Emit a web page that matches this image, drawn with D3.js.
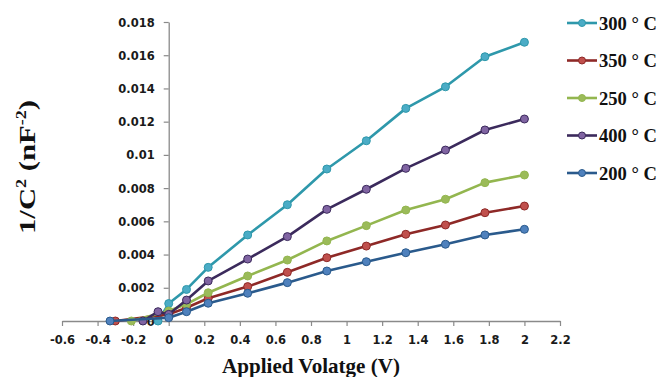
<!DOCTYPE html>
<html><head><meta charset="utf-8">
<script src="https://cdn.jsdelivr.net/npm/d3@7/dist/d3.min.js"></script>
<style>
html,body{margin:0;padding:0;background:#fff;}
svg{display:block;}
.tick text{font-family:"DejaVu Sans",sans-serif;font-weight:bold;font-size:11.5px;fill:#1a1a1a;}
</style></head>
<body><svg id="c" width="658" height="377"></svg>
<script>
// ---- data ----
const seriesNames = ["300 ° C", "350 ° C", "250 ° C", "400 ° C", "200 ° C"];
const xTickValues = [-0.6,-0.4,-0.2,0,0.2,0.4,0.6,0.8,1,1.2,1.4,1.6,1.8,2,2.2];
const xTickLabels = ["-0.6","-0.4","-0.2","0","0.2","0.4","0.6","0.8","1","1.2","1.4","1.6","1.8","2","2.2"];
const yTickValues = [0,0.002,0.004,0.006,0.008,0.01,0.012,0.014,0.016,0.018];
const yTickLabels = ["0","0.002","0.004","0.006","0.008","0.01","0.012","0.014","0.016","0.018"];

const x300 = [-0.06, 0, 0.1, 0.222, 0.444, 0.667, 0.889, 1.111, 1.333, 1.556, 1.778, 2.0];
const y300 = [0, 0.00105, 0.0019, 0.00323, 0.00518, 0.0070, 0.00915, 0.01085, 0.0128, 0.0141, 0.01591, 0.01678];
const x350 = [-0.30, 0, 0.1, 0.222, 0.444, 0.667, 0.889, 1.111, 1.333, 1.556, 1.778, 2.0];
const y350 = [0, 0.0004, 0.0008, 0.00137, 0.00207, 0.00293, 0.00381, 0.00451, 0.00522, 0.00578, 0.00652, 0.00692];
const x250 = [-0.21, 0, 0.1, 0.222, 0.444, 0.667, 0.889, 1.111, 1.333, 1.556, 1.778, 2.0];
const y250 = [0, 0.0006, 0.00102, 0.0017, 0.00271, 0.00367, 0.00482, 0.00574, 0.00668, 0.00733, 0.00833, 0.00879];
const x400 = [-0.145, -0.06, 0, 0.1, 0.222, 0.444, 0.667, 0.889, 1.111, 1.333, 1.556, 1.778, 2.0];
const y400 = [0, 0.00056, 0.0004, 0.00126, 0.00241, 0.00373, 0.00508, 0.00672, 0.00793, 0.00919, 0.01029, 0.0115, 0.01216];
const x200 = [-0.33, 0, 0.1, 0.222, 0.444, 0.667, 0.889, 1.111, 1.333, 1.556, 1.778, 2.0];
const y200 = [0, 0.0002, 0.00056, 0.00107, 0.00167, 0.00231, 0.00301, 0.00357, 0.00411, 0.00462, 0.00518, 0.00552];

const lineColors   = ["#2E98AB", "#8E2927", "#93B64F", "#3B2A5C", "#2A5A8C"];
const markerColors = ["#4BACC6", "#C0504D", "#9BBB59", "#8064A2", "#4F81BD"];

const series = [
  {name: seriesNames[0], xs: x300, ys: y300},
  {name: seriesNames[1], xs: x350, ys: y350},
  {name: seriesNames[2], xs: x250, ys: y250},
  {name: seriesNames[3], xs: x400, ys: y400},
  {name: seriesNames[4], xs: x200, ys: y200}
];

// ---- layout ----
const svg = d3.select("#c");
const x = d3.scaleLinear().domain([-0.6, 2.2]).range([62, 560]);
const y = d3.scaleLinear().domain([0, 0.018]).range([321, 22]);

// x axis
svg.append("g").attr("transform", `translate(0,${y(0)})`)
  .call(d3.axisBottom(x).tickValues(xTickValues)
    .tickFormat((d,i)=>xTickLabels[i]).tickSize(5).tickSizeOuter(0).tickPadding(10));
// y axis at x=0
const yAxis = svg.append("g").attr("transform", `translate(${x(0)},0)`)
  .call(d3.axisLeft(y).tickValues(yTickValues)
    .tickFormat((d,i)=>yTickLabels[i]).tickSize(5).tickSizeOuter(0).tickPadding(9));
svg.selectAll(".domain").attr("stroke", "#8a8a8a").attr("stroke-width", 1.3);
svg.selectAll(".tick line").attr("stroke", "#8a8a8a").attr("stroke-width", 1.2);
yAxis.selectAll(".tick text").attr("dy", "0.35em");

// lines
const line = d3.line().x(d=>x(d[0])).y(d=>y(d[1]));
series.forEach((s, i) => {
  const pts = s.xs.map((v, j) => [v, s.ys[j]]);
  const g = svg.append("g");
  g.append("path").datum(pts).attr("d", line)
    .attr("fill", "none").attr("stroke", lineColors[i]).attr("stroke-width", 2.6)
    .attr("stroke-linejoin", "round");
  g.selectAll("circle").data(pts).enter().append("circle")
    .attr("cx", d=>x(d[0])).attr("cy", d=>y(d[1])).attr("r", 4)
    .attr("fill", markerColors[i]).attr("stroke", lineColors[i]).attr("stroke-width", 1);
});

// legend
const legendY = d3.scalePoint().domain(seriesNames).range([23, 173]);
series.forEach((s, i) => {
  const ly = legendY(s.name);
  svg.append("line").attr("x1", 567).attr("x2", 597).attr("y1", ly).attr("y2", ly)
    .attr("stroke", lineColors[i]).attr("stroke-width", 2.6);
  svg.append("circle").attr("cx", 582).attr("cy", ly).attr("r", 3.5)
    .attr("fill", markerColors[i]).attr("stroke", lineColors[i]).attr("stroke-width", 1);
  svg.append("text").attr("x", 599).attr("y", ly + 6.5)
    .attr("font-family", "'Liberation Serif','Times New Roman',serif")
    .attr("font-weight", "bold").attr("font-size", 18.5).attr("fill", "#111")
    .attr("textLength", 58).attr("lengthAdjust", "spacingAndGlyphs")
    .text(s.name);
});

// x title
svg.append("text").attr("x", 311).attr("y", 373).attr("text-anchor", "middle")
  .attr("font-family", "'Liberation Serif','Times New Roman',serif")
  .attr("font-weight", "bold").attr("font-size", 22).attr("fill", "#111")
  .attr("textLength", 178).attr("lengthAdjust", "spacingAndGlyphs")
  .text("Applied Volatge (V)");

// y title
const yt = svg.append("text").attr("transform", "translate(35,167) rotate(-90)")
  .attr("text-anchor", "middle")
  .attr("font-family", "'Liberation Serif','Times New Roman',serif")
  .attr("font-weight", "bold").attr("font-size", 24).attr("fill", "#111")
  .attr("textLength", 134).attr("lengthAdjust", "spacingAndGlyphs");
yt.append("tspan").text("1/C");
yt.append("tspan").attr("font-size", 14).attr("dy", -9).text("2");
yt.append("tspan").attr("dy", 9).text(" (nF");
yt.append("tspan").attr("font-size", 14).attr("dy", -9).text("-2");
yt.append("tspan").attr("dy", 9).text(")");
</script></body></html>
